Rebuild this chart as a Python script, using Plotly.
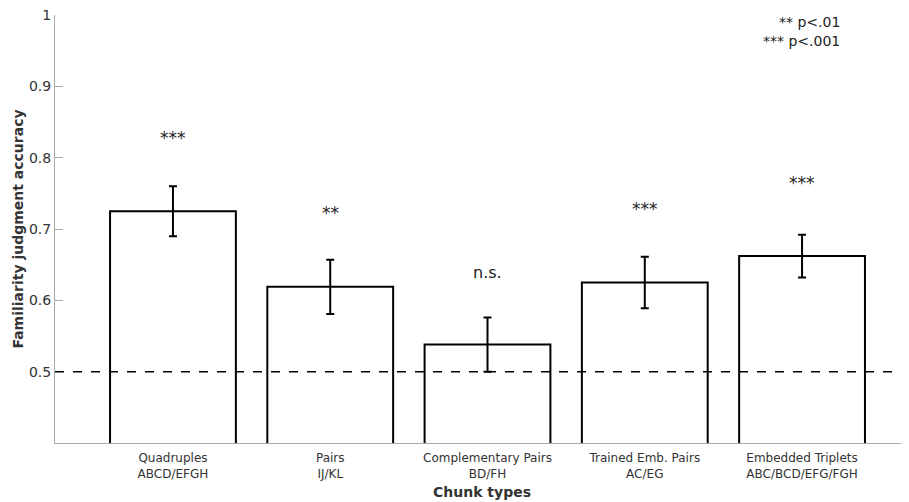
import plotly.graph_objects as go

categories = ["Quadruples<br>ABCD/EFGH", "Pairs<br>IJ/KL", "Complementary Pairs<br>BD/FH",
              "Trained Emb. Pairs<br>AC/EG", "Embedded Triplets<br>ABC/BCD/EFG/FGH"]
means = [0.725, 0.619, 0.538, 0.625, 0.662]
errors = [0.035, 0.038, 0.038, 0.036, 0.030]
sig_labels = ["***", "**", "n.s.", "***", "***"]
sig_y = [0.828, 0.723, 0.639, 0.728, 0.765]
yticks = [0.5, 0.6, 0.7, 0.8, 0.9, 1.0]
yticklabels = ["0.5", "0.6", "0.7", "0.8", "0.9", "1"]

x = list(range(len(categories)))
font = "DejaVu Sans"

fig = go.Figure()
fig.add_trace(go.Bar(
    x=x, y=means, width=0.8,
    marker=dict(color="white", line=dict(color="black", width=2)),
    error_y=dict(type="data", array=errors, visible=True, color="black", thickness=2, width=4),
    showlegend=False,
))

fig.add_shape(type="line", xref="paper", yref="y", x0=0, x1=1, y0=0.5, y1=0.5,
              line=dict(color="black", width=1.5, dash="dash"))

for xi, lab, yy in zip(x, sig_labels, sig_y):
    fig.add_annotation(x=xi, y=yy, text=lab, showarrow=False, yanchor="middle",
                       font=dict(family=font, size=17 if lab != "n.s." else 16, color="#222"))

fig.add_annotation(xref="paper", yref="paper", x=0.921, y=0.984, xanchor="right", yanchor="middle",
                   text="** p<.01", showarrow=False, font=dict(family=font, size=14, color="#222"))
fig.add_annotation(xref="paper", yref="paper", x=0.921, y=0.939, xanchor="right", yanchor="middle",
                   text="*** p<.001", showarrow=False, font=dict(family=font, size=14, color="#222"))

fig.update_layout(
    width=909, height=502,
    margin=dict(l=47, r=8, t=7, b=67),
    paper_bgcolor="white", plot_bgcolor="white",
    font=dict(family=font, size=12, color="#333"),
    bargap=0.2,
)
fig.update_xaxes(range=[-0.75, 4.68], tickvals=x, ticktext=categories, showgrid=False,
                 showline=True, linecolor="#aaaaaa", linewidth=1, ticks="", zeroline=False,
                 automargin=False, ticklabelstandoff=4,
                 tickfont=dict(family=font, size=12, color="#333"),
                 title=dict(text="<b>Chunk types</b>", font=dict(family=font, size=14, color="#333"), standoff=7))
fig.update_yaxes(range=[0.4, 1.0], tickvals=yticks, ticktext=yticklabels, showgrid=False,
                 showline=True, linecolor="#aaaaaa", linewidth=1, ticks="inside", ticklen=8,
                 tickcolor="#aaaaaa", zeroline=False, automargin=False, ticklabeloverflow="allow",
                 tickfont=dict(family=font, size=14, color="#333"),
                 title=dict(text="<b>Familiarity judgment accuracy</b>", font=dict(family=font, size=14, color="#333"), standoff=2))

fig.write_html("out.html")
